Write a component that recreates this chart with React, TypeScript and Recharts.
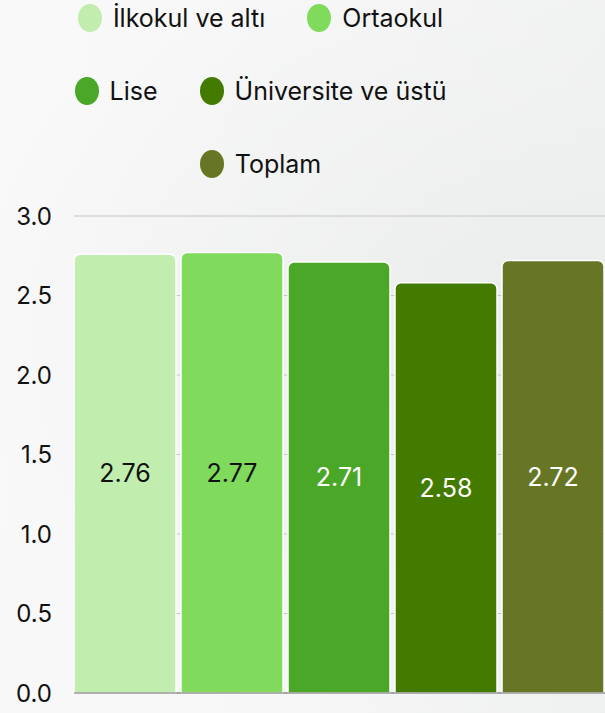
import { BarChart, Bar, XAxis, YAxis, CartesianGrid, Legend, LabelList } from 'recharts';

// eğitim durumuna göre ortalama puan
const seriesNames = ['İlkokul ve altı', 'Ortaokul', 'Lise', 'Üniversite ve üstü', 'Toplam'];
const seriesValues = [2.76, 2.77, 2.71, 2.58, 2.72];
const seriesColors = ['#c1edaf', '#80da5c', '#4ba727', '#437a00', '#667624'];
const labelColors = ['#111111', '#111111', '#ffffff', '#ffffff', '#ffffff'];
const legendRows = [[0, 1], [2, 3], [4]];
const yTicks = [0, 0.5, 1, 1.5, 2, 2.5, 3];

const FONT = 'Inter, "Noto Sans", sans-serif';

const row: Record<string, number | string> = { name: 'Ortalama' };
seriesValues.forEach((v, i) => {
  row[`s${i}`] = v;
});
const chartData = [row];

function LegendRows() {
  return (
    <div style={{ width: 521, fontFamily: FONT }}>
      {legendRows.map((items, r) => (
        <div
          key={r}
          style={{
            display: 'flex',
            justifyContent: 'center',
            alignItems: 'center',
            height: 28,
            marginTop: r === 0 ? 4 : 45,
            gap: 42,
          }}
        >
          {items.map((i) => (
            <div key={i} style={{ display: 'flex', alignItems: 'center' }}>
              <svg width={24} height={28} style={{ marginRight: 11 }}>
                <ellipse cx={12} cy={14} rx={12} ry={14} fill={seriesColors[i]} />
              </svg>
              <span style={{ fontSize: 25, color: '#111', lineHeight: '28px' }}>{seriesNames[i]}</span>
            </div>
          ))}
        </div>
      ))}
    </div>
  );
}

export default function App() {
  return (
    <div
      style={{
        position: 'absolute',
        left: 0,
        top: 0,
        width: 605,
        height: 713,
        overflow: 'hidden',
        background:
          'radial-gradient(ellipse at 90% 45%, #ebedec 0%, rgba(238,240,239,0.6) 40%, rgba(246,247,246,0) 75%), linear-gradient(100deg, #f8f9f8 0%, #f6f7f6 55%, #eff1f0 100%)',
      }}
    >
      <BarChart
        width={605}
        height={713}
        data={chartData}
        margin={{ top: 216, right: 0, left: 0, bottom: 0 }}
        barCategoryGap={0}
        barGap={5}
      >
        <CartesianGrid vertical={false} stroke="#c4c4c4" />
        <XAxis dataKey="name" height={20} tick={false} tickLine={false} axisLine={{ stroke: '#6b6b6b' }} />
        <YAxis
          width={74}
          domain={[0, 3]}
          ticks={yTicks}
          tickFormatter={(v: number) => v.toFixed(1)}
          axisLine={false}
          tickLine={false}
          tickMargin={16}
          tick={{ fill: '#111', fontSize: 24, fontFamily: FONT }}
        />
        <Legend
          layout="horizontal"
          verticalAlign="middle"
          align="center"
          wrapperStyle={{ top: 0, left: 0, width: 521 }}
          content={() => <LegendRows />}
        />
        {seriesNames.map((name, i) => (
          <Bar
            key={name}
            dataKey={`s${i}`}
            name={name}
            fill={seriesColors[i]}
            stroke="#ffffff"
            strokeWidth={1.5}
            radius={[6, 6, 0, 0]}
            isAnimationActive={false}
          >
            <LabelList
              dataKey={`s${i}`}
              position="center"
              fill={labelColors[i]}
              style={{ fontSize: 25, fontFamily: FONT }}
              formatter={(v: number) => v.toFixed(2)}
            />
          </Bar>
        ))}
      </BarChart>
    </div>
  );
}
